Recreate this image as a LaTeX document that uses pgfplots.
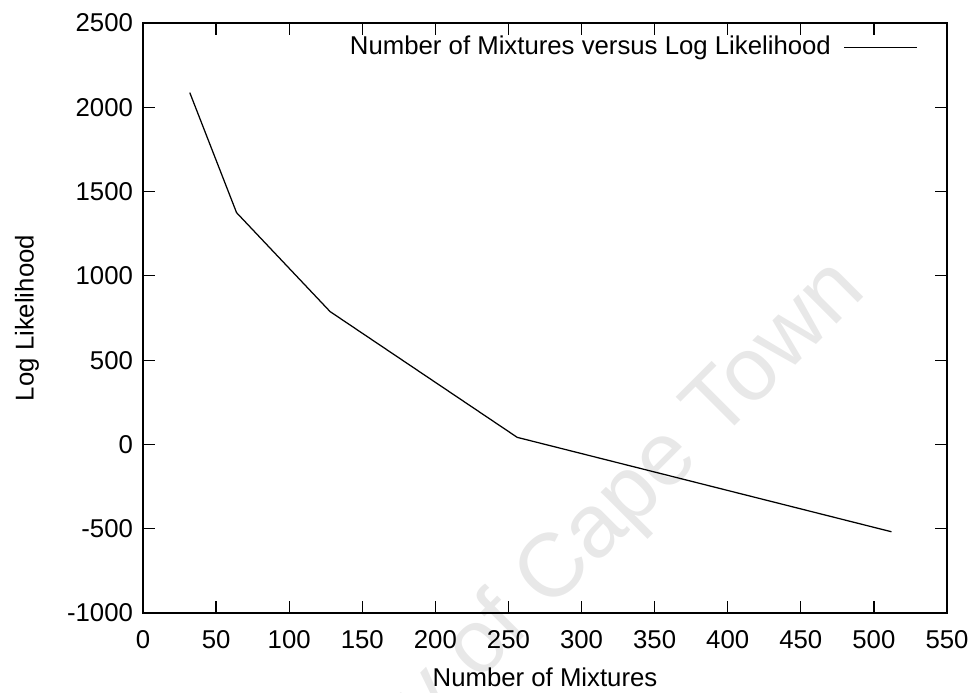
\documentclass[border=0pt]{standalone}
\usepackage{pgfplots}
\pgfplotsset{compat=1.18}
\usepackage{fontspec}
\setmainfont{Liberation Sans}
\begin{document}
\begin{tikzpicture}[font=\fontsize{10.3}{12.4}\selectfont]
\useasboundingbox (-57.2pt,-31.6pt) rectangle (333.2pt,245.2pt);
\begin{scope}
\clip (-57.2pt,-31.6pt) rectangle (333.2pt,245.2pt);
\node[rotate=45, anchor=base east, inner sep=0pt, text=black!9, font=\fontsize{36}{40}\selectfont] at (290pt,128pt) {University of Cape Town};
\end{scope}
\begin{axis}[
  at={(0,0)}, anchor=south west,
  scale only axis,
  width=321.6pt, height=236pt,
  xmin=0, xmax=550, ymin=-1000, ymax=2500,
  xtick={0,50,...,550},
  ytick={-1000,-500,...,2500},
  scaled ticks=false,
  /pgf/number format/assume math mode=true,
  /pgf/number format/set thousands separator={},
  tick align=inside,
  tick pos=both,
  major tick length=4.8pt,
  minor tick num=0,
  axis line style={line width=0.5pt},
  tick style={line width=0.5pt, black},
  xticklabel style={yshift=-3.6pt},
  yticklabel style={xshift=-0.5pt},
  xlabel={Number of Mixtures},
  ylabel={Log Likelihood},
  xlabel style={at={(axis description cs:0.5,0)}, anchor=center, yshift=-25.6pt},
  ylabel style={at={(axis description cs:0,0.5)}, anchor=center, yshift=46.4pt},
  legend plot pos=right,
  legend style={at={(axis description cs:0.9635,0.959)}, anchor=east, draw=none, fill=none, inner sep=0pt, outer sep=0pt,
    nodes={inner ysep=2pt, inner xsep=5pt}},
  legend cell align=right,
  legend image code/.code={\draw[#1] (0pt,0pt) -- (29.2pt,0pt);},
]
\addplot[black, line width=0.5pt] coordinates {
  (32,2087) (64,1375) (128,788) (256,42) (512,-518)
};
\addlegendentry{Number of Mixtures versus Log Likelihood}
\end{axis}
\end{tikzpicture}
\end{document}
